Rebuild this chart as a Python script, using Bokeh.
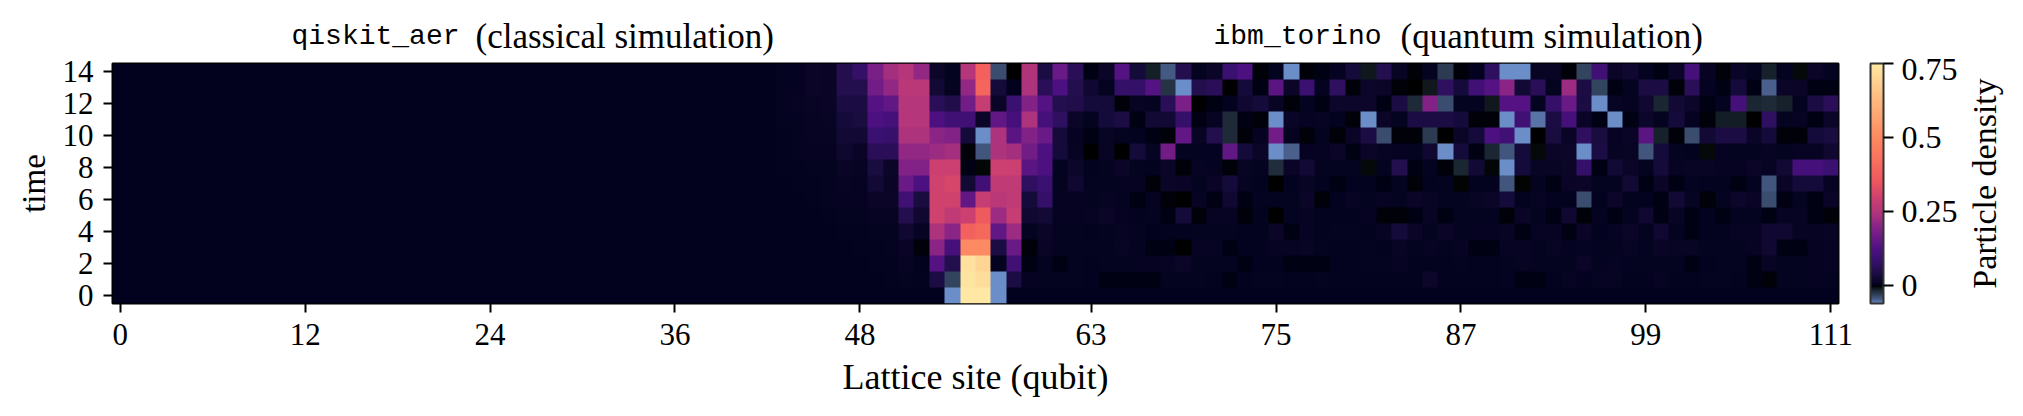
from bokeh.embed import file_html
from bokeh.resources import INLINE
from bokeh.plotting import figure
from bokeh.layouts import column
from bokeh.core.properties import value
from bokeh.models import LinearColorMapper, ColorBar, FixedTicker, Label
import numpy as np

# sites 43..62, one list per time step
mid14 = [.003,.004,.012,.01,.05,.08,.18,.23,.25,.21,.015,.003,.25,.38,-.04,-.003,.245,.04,.16,.06]
mid13 = [.003,.004,.012,.01,.05,.05,.17,.21,.26,.26,.025,.003,.21,.39,.03,0,.24,.06,.12,.05]
mid12 = [.002,.006,.008,.01,.04,.04,.13,.15,.25,.25,.06,.045,.17,.28,.01,.09,.19,.13,.05,.045]
mid11 = [.002,.004,.006,.008,.03,.035,.12,.11,.25,.25,.12,.1,.10,.012,.15,.11,.24,.11,.07,.012]
mid10 = [.001,.003,.005,.005,.025,.025,.09,.085,.24,.24,.2,.19,.03,-.062,.24,.14,.19,.16,.03,.004]
mid9  = [.001,.002,.004,.004,.018,.01,.06,.06,.21,.21,.22,.23,-.002,-.045,.24,.23,.17,.12,.03,.006]
mid8  = [.001,.001,.002,.003,.01,.006,.035,.012,.19,.19,.29,.29,-.001,-.005,.29,.29,.14,.12,.002,.015]
mid7  = [0,.001,.001,.002,.005,.004,.025,.01,.16,.12,.3,.31,.025,.1,.27,.27,.07,.09,.002,.02]
mid6  = [0,0,.001,.002,.004,.004,.012,.012,.1,.035,.3,.3,.15,.28,.26,.27,.03,.08,.004,.004]
mid5  = [0,0,0,.001,.002,.002,.006,.006,.05,.02,.3,.27,.29,.36,.22,.28,.02,.025,.004,.004]
mid4  = [0,0,0,0,.001,.001,.003,.003,.02,.006,.24,.2,.38,.4,.15,.22,.002,.012,.002,.003]
mid3  = [0,0,0,0,0,.001,.001,.002,.01,-.002,.2,.11,.5,.5,.04,.16,-.002,.01,.003,.003]
mid2  = [0,0,0,0,0,0,.001,.001,.005,0,.13,.05,.73,.70,.003,.1,-.001,.002,-.001,.002]
mid1  = [0,0,0,0,0,0,0,.001,.003,.001,.04,-.035,.74,.72,-.062,.04,.004,.002,.002,.003]
mid0  = [0,0,0,0,0,0,0,0,0,0,0,-.062,.75,.75,-.062,0,0,0,0,0]

# sites 63..111, one list per time step
q14 = [-.001,.012,.13,.03,-.015,-.047,.05,.002,.012,.09,.12,-.002,.002,-.062,-.002,-.001,.004,.03,-.012,.05,.008,-.002,
       .003,-.03,-.002,.001,.07,-.062,-.062,.008,.008,-.002,-.035,.1,.012,.02,.003,-.001,.012,.11,.006,-.002,.01,.002,
       -.016,.003,-.006,.012,.002]
q13 = [.02,.003,.08,.08,.13,-.025,-.062,.05,.06,-.003,.03,-.001,.14,.012,.09,.003,.07,-.002,.015,.012,-.002,-.003,
       -.012,.07,.03,.1,.13,.2,.025,.06,.003,.22,.04,-.035,-.001,.002,.04,.04,-.002,.06,.004,-.001,.03,-.001,
       -.05,.012,.012,-.001,-.001]
q12 = [.03,.03,-.002,.006,.002,.06,.18,-.003,-.001,.001,.02,.03,.008,-.002,.002,-.001,.015,.015,.015,-.001,.04,-.02,
       .19,-.04,.002,.002,-.012,.13,.13,.002,.08,.16,.04,-.062,.008,.004,.02,-.018,.025,.015,-.001,.003,.11,-.018,
       -.02,-.016,.002,.04,.06]
q11 = [.002,.03,.04,-.001,.025,.025,.08,-.001,.006,-.02,-.001,-.002,-.062,.01,.004,.006,.001,-.002,-.062,.012,.003,.04,
       .04,.04,.03,-.002,-.002,-.062,.1,-.055,.04,.11,.01,-.001,-.062,-.001,.015,.002,.03,.004,-.002,-.014,-.014,-.003,
       .07,.002,.006,-.001,.012]
q10 = [-.001,.008,.003,.001,-.001,-.002,.15,.008,.05,-.02,-.002,.004,.17,.002,-.002,.002,-.002,.01,.04,-.04,-.002,-.002,
       -.03,-.003,.012,.03,.12,.1,-.062,-.003,.035,.01,.07,.035,.005,.01,.14,-.016,-.002,-.04,.025,.04,.04,.01,
       .03,-.002,-.002,.03,.035]
q9  = [-.003,.008,-.003,.03,.006,.17,.002,.002,.004,.15,.03,.012,-.062,-.05,.004,.004,.012,-.001,.012,.006,.004,.003,
       .02,-.062,.03,-.001,-.018,-.045,.03,-.006,.012,.015,-.062,.04,.005,.008,-.045,.03,.003,.001,-.006,.004,.002,.002,
       .006,.002,.006,.005,.02]
q8  = [.001,.003,.012,.002,.001,.012,-.002,.006,.002,-.002,.008,.003,-.022,.01,.025,.002,.002,.002,-.006,.002,.05,-.001,
       .002,-.002,-.018,.025,-.005,-.062,.03,.008,.008,.012,.08,-.001,.025,.012,.002,.03,.005,.008,.008,.004,.004,.012,
       .005,.025,.11,.11,.09]
q7  = [.002,.003,.004,.004,-.002,.012,.01,.003,.01,.03,.006,.001,-.003,.001,.008,.001,-.001,.001,.001,-.001,.002,-.002,
       .001,.002,-.004,.001,.001,-.045,-.004,.003,-.001,.01,.012,.003,.003,.025,-.001,.012,-.001,.003,.001,.001,-.001,.002,
       -.045,.01,.03,.03,.005]
q6  = [.002,.006,.003,-.001,.004,-.002,-.003,.006,-.001,.02,-.001,.003,.003,.002,.012,-.002,.001,.006,.002,.006,.002,.012,
       .008,.003,.003,.008,.012,.03,.001,.005,.001,.001,-.04,.001,.015,.001,.001,-.001,.025,.006,-.002,.002,.015,.01,
       -.04,-.001,.002,-.001,.01]
q5  = [.006,.012,.004,.001,.002,-.001,.03,-.002,.006,.005,-.002,.001,-.003,.002,.006,.001,.001,.001,.004,-.002,-.002,-.001,
       .008,-.001,.003,.002,.002,-.002,.01,.002,-.001,.02,-.002,.002,-.001,.002,.02,-.001,.008,-.001,.001,-.001,.002,.003,
       -.001,.006,.006,-.001,-.002]
q4  = [.001,.002,.005,.002,0,.001,.001,.002,.002,.003,.001,.001,.012,-.001,.006,.001,.002,.002,.001,.006,.03,.012,
       .002,.012,.003,.004,.004,.008,-.001,.006,.005,-.001,.012,.001,.006,.012,.002,.02,.002,-.001,.001,.001,.006,.006,
       .02,.02,.005,.005,.008]
q3  = [.003,.002,.008,.003,-.001,-.001,-.003,.006,.006,-.001,.001,.001,.006,.006,.007,.002,.001,.001,.002,.001,.008,.002,
       .005,.002,.006,-.001,-.001,.006,.005,.003,.008,.002,.006,.002,.002,.008,.002,.01,.008,.007,.002,.002,.002,.005,
       .02,-.001,-.001,.004,.006]
q2  = [.001,.002,.003,.004,.004,.006,.012,.003,.003,.002,-.001,.001,.001,-.001,-.001,-.001,.001,.001,.002,.002,.006,.001,
       .001,.001,.002,.001,.001,.002,.005,.002,.002,.002,.012,.002,.006,.002,.002,.002,.002,-.001,.001,.002,.002,-.001,
       .008,.002,.003,.004,.005]
q1  = [.001,-.001,-.001,-.001,-.001,.002,.003,.002,.001,-.001,.001,.003,.003,.001,.001,.002,.001,.001,.001,.001,.001,.001,
       .015,.001,.001,.001,.001,.002,-.001,-.001,.001,.006,.001,.005,.005,.001,.001,.005,.001,.001,.002,.002,.001,-.001,
       -.002,.002,.003,.004,.002]
q0  = [0] * 49

left_sites = [0] * 43
mids = [mid0, mid1, mid2, mid3, mid4, mid5, mid6, mid7, mid8, mid9, mid10, mid11, mid12, mid13, mid14]
quants = [q0, q1, q2, q3, q4, q5, q6, q7, q8, q9, q10, q11, q12, q13, q14]

x_ticks = [0, 12, 24, 36, 48, 63, 75, 87, 99, 111]
y_ticks = [0, 2, 4, 6, 8, 10, 12, 14]
cb_ticks = [0, 0.25, 0.5, 0.75]
cb_labels = {0: "0", 0.25: "0.25", 0.5: "0.5", 0.75: "0.75"}

density = np.array([left_sites + m + q for m, q in zip(mids, quants)], dtype=float)

# colour scale: value -> colour
scale_v = [-.062, -.05, -.035, -.02, -.01, -.003, 0, .01, .03, .06, .09, .12, .16, .20, .25, .30, .35, .42, .5, .6, .75]
scale_c = ["#6b8ec8", "#4a5f8c", "#33445f", "#1e2a38", "#0c1418", "#000000", "#02021e", "#0a0526", "#150b3a",
           "#2a0f58", "#3a1070", "#4c1080", "#6a1a86", "#8a2586", "#b5367a", "#d0426e", "#ee5660", "#f8705c",
           "#fd8a62", "#feb078", "#fee8a4"]
low, high = scale_v[0], scale_v[-1]
rgb = np.array([[int(c[i:i + 2], 16) for i in (1, 3, 5)] for c in scale_c], dtype=float)
grid = np.linspace(low, high, 813)
palette = ["#%02x%02x%02x" % tuple(int(round(np.interp(g, scale_v, rgb[:, k]))) for k in range(3)) for g in grid]
mapper = LinearColorMapper(palette=palette, low=low, high=high)

SERIF = "Liberation Serif"
MONO = "Liberation Mono"

# strip above the heatmap that carries the two mixed-font titles; its frame lines up with the heatmap's
top = figure(width=2015, height=58, output_backend="svg", toolbar_location=None,
             x_range=(112, 1838), y_range=(58, 0), x_axis_type=None, y_axis_type=None,
             min_border=0, outline_line_color=None)
top.grid.visible = False
for txt, tx, font, size in [("qiskit_aer", 291, MONO, "28px"), ("(classical simulation)", 475, SERIF, "35px"),
                            ("ibm_torino", 1213, MONO, "28px"), ("(quantum simulation)", 1400, SERIF, "35px")]:
    top.text(x=[tx], y=[36], text=[txt], text_font=value(font), text_font_size=value(size),
             text_color="black", text_baseline="alphabetic", text_align="left")

p = figure(width=2015, height=350, output_backend="svg", toolbar_location=None,
           x_range=(-0.5, 111.5), y_range=(-0.5, 14.5),
           min_border_left=112, min_border_right=177, min_border_top=5, min_border_bottom=105,
           x_axis_label="Lattice site (qubit)", y_axis_label="time")
p.grid.visible = False
p.image(image=[density], x=-0.5, y=-0.5, dw=112, dh=15, color_mapper=mapper)
p.outline_line_color = "black"
p.outline_line_width = 2

p.xaxis.ticker = FixedTicker(ticks=x_ticks)
p.yaxis.ticker = FixedTicker(ticks=y_ticks)
for ax in (p.xaxis[0], p.yaxis[0]):
    ax.axis_line_color = None
    ax.major_tick_in = 0
    ax.major_tick_out = 9
    ax.major_tick_line_width = 2
    ax.minor_tick_line_color = None
    ax.major_label_text_font = SERIF
    ax.major_label_text_font_size = "31px"
    ax.major_label_text_color = "black"
    ax.axis_label_text_font = SERIF
    ax.axis_label_text_font_size = "36px"
    ax.axis_label_text_font_style = "normal"
    ax.axis_label_text_color = "black"
p.xaxis.major_label_standoff = 11
p.xaxis.axis_label_standoff = 9
p.yaxis.major_label_standoff = 10
p.yaxis.major_label_orientation = "horizontal"
p.yaxis.axis_label_standoff = 8
p.yaxis.axis_label_text_font_size = "33px"

cb = ColorBar(color_mapper=mapper, location=(1758, 0), width=13, height=240, padding=0, margin=0,
              ticker=FixedTicker(ticks=cb_ticks), major_label_overrides=cb_labels,
              major_tick_in=0, major_tick_out=10, major_tick_line_color="black", major_tick_line_width=2,
              minor_tick_line_color=None, bar_line_color="#333333", bar_line_width=2,
              major_label_text_font=SERIF, major_label_text_font_size="32px",
              major_label_text_color="black", label_standoff=8, background_fill_alpha=0)
p.add_layout(cb)

p.add_layout(Label(text="Particle density", x=121.0, y=7, text_font=SERIF, text_font_size="34px", text_color="black",
                   angle=np.pi / 2, text_align="center", text_baseline="alphabetic"), "right")

open("out.html", "w").write(file_html(column(top, p), INLINE))
